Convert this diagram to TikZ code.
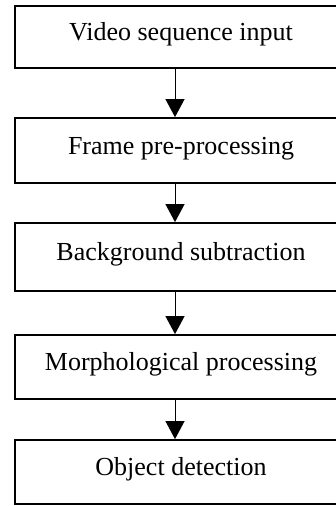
\documentclass[tikz,border=0pt]{standalone}
\usepackage{fontspec}
\setmainfont{Liberation Serif}
\usetikzlibrary{arrows.meta}
\begin{document}
\begin{tikzpicture}[x=1pt,y=-1pt,
  stepbox/.style={draw=black, line width=1.8pt, rectangle, minimum width=332pt,
    inner sep=0pt, font=\fontsize{26}{30}\selectfont, text height=7pt, text depth=0pt},
  flow/.style={line width=1pt, -{Triangle[width=19pt,length=18pt]}}]
\useasboundingbox (0,0) rectangle (336,506);
\node[stepbox, minimum height=62pt] (b1) at (181,37) {Video sequence input};
\node[stepbox, minimum height=65pt] (b2) at (181,150.5) {Frame pre-processing};
\node[stepbox, minimum height=68pt] (b3) at (181,257) {Background subtraction};
\node[stepbox, minimum height=64pt] (b4) at (181,367) {Morphological processing};
\node[stepbox, minimum height=64pt] (b5) at (181,472) {Object detection};
\draw[flow] ([xshift=-6pt]b1.south) -- ([xshift=-6pt]b2.north);
\draw[flow] ([xshift=-6pt]b2.south) -- ([xshift=-6pt]b3.north);
\draw[flow] ([xshift=-6pt]b3.south) -- ([xshift=-6pt]b4.north);
\draw[flow] ([xshift=-6pt]b4.south) -- ([xshift=-6pt]b5.north);
\end{tikzpicture}
\end{document}
